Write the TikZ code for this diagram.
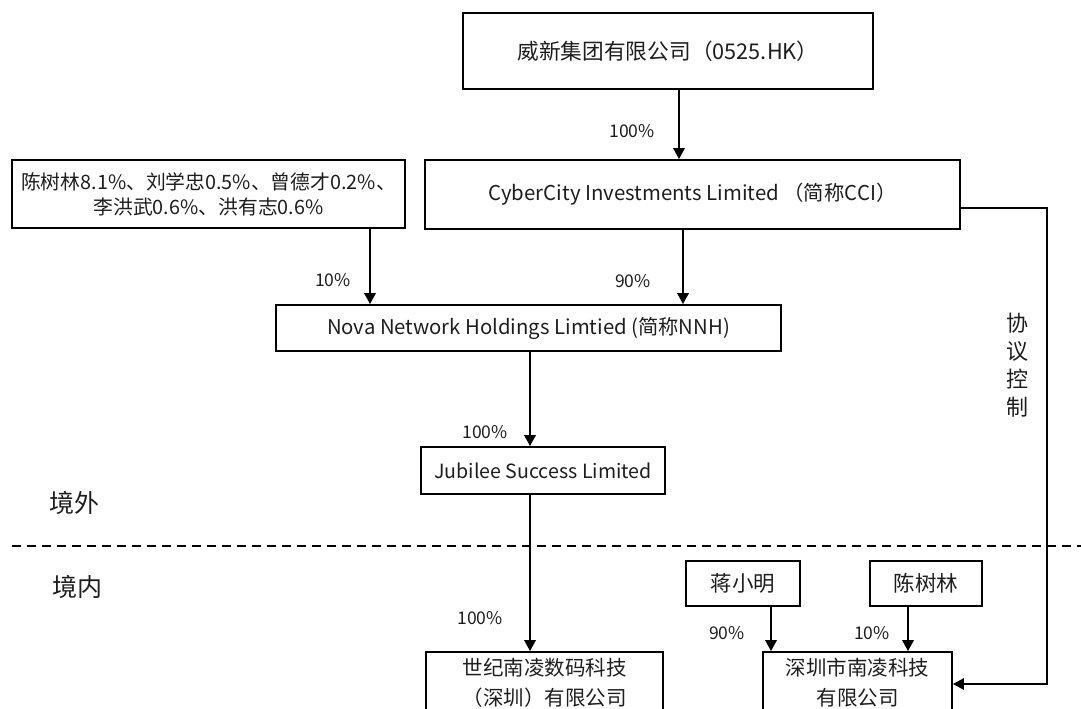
\documentclass[tikz,border=0pt]{standalone}
\usepackage{fontspec}
\setmainfont{Noto Sans CJK SC}
\usetikzlibrary{arrows.meta}
\definecolor{txt}{HTML}{1E1E1E}
\tikzset{
 box/.style={draw=black, line width=1.6pt, inner sep=0pt, text=txt, align=center},
 arr/.style={line width=2.8pt, -{Triangle[length=11pt,width=11pt]}},
 pct/.style={text=txt, font=\fontsize{17.5}{17.5}\selectfont, inner sep=0pt},
 side/.style={text=txt, font=\fontsize{25}{25}\selectfont, inner sep=0pt},
}
\begin{document}
\begin{tikzpicture}[x=1pt,y=-1pt]
\useasboundingbox (0,0) rectangle (1081,709);
\clip (0,0) rectangle (1081,709);
\node[box, minimum width=410, minimum height=76, font=\fontsize{21.7}{21.7}\selectfont] (wx) at (668,51) {威新集团有限公司（0525.HK）};
\node[box, minimum width=535, minimum height=69, font=\fontsize{20.4}{20.4}\selectfont] (cci) at (692.5,194.5) {CyberCity Investments Limited （简称CCI）};
\node[box, minimum width=393, minimum height=68, font=\fontsize{19.8}{25}\selectfont] (lb) at (208.5,194) {陈树林8.1\%、刘学忠0.5\%、曾德才0.2\%、\\李洪武0.6\%、洪有志0.6\%};
\node[box, minimum width=505, minimum height=46, font=\fontsize{20.3}{20.3}\selectfont] (nnh) at (528.5,328) {Nova Network Holdings Limtied (简称NNH)};
\node[box, minimum width=244, minimum height=47, font=\fontsize{19.6}{19.6}\selectfont] (jub) at (543,470.5) {Jubilee Success Limited};
\node[box, minimum width=237, minimum height=62, font=\fontsize{20.5}{30}\selectfont] (sj) at (544.5,683) {世纪南凌数码科技\\（深圳）有限公司};
\node[box, minimum width=114, minimum height=45, font=\fontsize{21.5}{21.5}\selectfont] (jxm) at (743,583.5) {蒋小明};
\node[box, minimum width=112, minimum height=45, font=\fontsize{21.5}{21.5}\selectfont] (csl) at (926,583.5) {陈树林};
\node[box, minimum width=189, minimum height=62, font=\fontsize{20.5}{30}\selectfont] (sz) at (857.5,683) {深圳市南凌科技\\有限公司};

\draw[arr] ([xshift=11pt]wx.south) -- ([xshift=-13.5pt]cci.north);
\draw[arr] ([xshift=161.5pt]lb.south) -- ([xshift=-158.5pt]nnh.north);
\draw[arr] ([xshift=-9.5pt]cci.south) -- ([xshift=154.5pt]nnh.north);
\draw[arr] ([xshift=1.5pt]nnh.south) -- ([xshift=-13pt]jub.north);
\draw[arr] ([xshift=-13pt]jub.south) -- ([xshift=-14.5pt]sj.north);
\draw[arr] ([xshift=28pt]jxm.south) -- ([xshift=-86.5pt]sz.north);
\draw[arr] ([xshift=-18pt]csl.south) -- ([xshift=50.5pt]sz.north);
\coordinate (rc) at (1047,684);
\draw[line width=2.4pt, -{Triangle[length=11pt,width=11pt]}] ([yshift=-13.5pt]cci.east) -| (rc) -- (rc -| sz.east);

\coordinate (dl) at (12,546);
\coordinate (dr) at (1081,546);
\draw[line width=1.4pt, dash pattern=on 9pt off 6pt] (dl) -- (dr);

\node[pct] (p1) at (632,131) {100\%};
\node[pct] (p2) at (333,280) {10\%};
\node[pct] (p3) at (633,281) {90\%};
\node[pct] (p4) at (485,432) {100\%};
\node[pct] (p5) at (480,618) {100\%};
\node[pct] (p6) at (727,633) {90\%};
\node[pct] (p7) at (872,633) {10\%};

\node[side] (jw) at (74,503) {境外};
\node[side] (jn) at (77,587) {境内};
\node[text=txt, font=\fontsize{22}{28}\selectfont, align=center, inner sep=0pt] (xy) at (1017,365) {协\\议\\控\\制};
\end{tikzpicture}
\end{document}
